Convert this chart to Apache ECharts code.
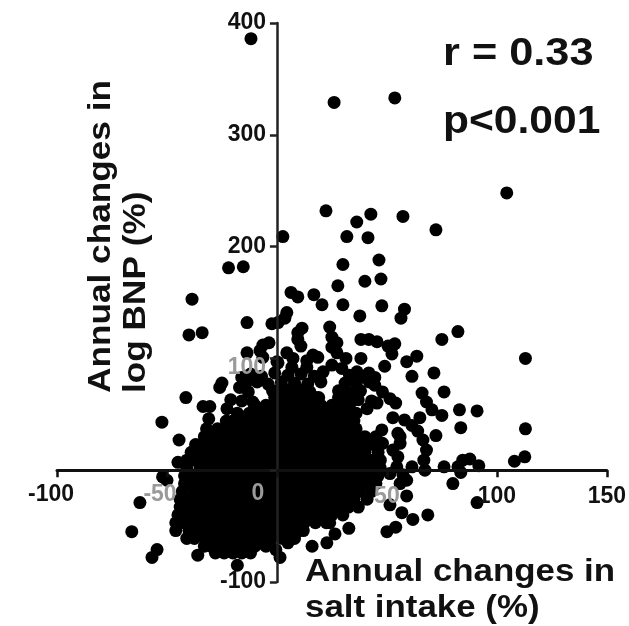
<!DOCTYPE html>
<html><head><meta charset="utf-8">
<script src="https://cdn.jsdelivr.net/npm/echarts@6/dist/echarts.min.js"></script>
<style>html,body{margin:0;padding:0;background:#fff}#c{width:629px;height:626px}</style>
</head><body><div id="c"></div>
<script>
const xTicks=[-100,-50,0,50,100,150];
const yTicks=[-100,0,100,200,300,400];
const grayXLabels=[50];
const shiftedXLabels=[-100,-50,0];
const shiftedYLabels=[0,100];
const outliersTop=[[-11.8,386],[26,329],[53.6,333],[104.5,248],[2.7,209],[-22,181],[-15.3,182],[-38.6,153],[-40,121],[-34,123],[-13.6,132],[22.3,232],[36.3,222],[42.7,229],[57.3,227],[72.3,215],[31.8,209],[41.4,208],[30,184],[46.4,188],[27.7,165],[40,169],[47.3,171],[6.4,159],[9.5,155],[16.8,157],[20.5,148],[30,148],[47.7,147],[37.7,138],[58,144],[56.4,136],[4.5,141],[3.6,136],[0.5,132],[-2.3,131]];
const upperCluster=[[11.4,127],[9.5,123],[9.5,117],[10.9,111],[24,128],[25,119],[27.3,114],[25,110],[27.3,105],[38.2,117],[41.8,117],[45.5,115],[53.6,113],[50.5,111],[52.3,104],[75,117],[63.6,102],[59,97],[49,93],[38.2,100],[31.4,100],[61.4,84],[71.4,87],[36.4,88],[41.8,87],[44.5,83],[-3.6,114],[-6.4,112],[-7.7,107],[-13.6,105],[4.5,105],[7.3,100],[0,97],[13.6,98],[16.4,103],[18.6,101],[21,88],[25,94],[29.5,91],[13.6,92],[6.8,92],[-16,83],[-6.4,101],[0.5,96],[44.5,76],[-26,74],[-25,78],[-17,74],[-33.6,57],[-30.5,57],[-21,63],[-22.7,55],[-31,46],[-32,37],[-41.4,65],[45.5,60],[41,55]];
const outliersRight=[[82.3,124],[113,100],[76,70],[66,69],[68,61],[70.5,54],[75,49],[83,54],[91,53],[65,47],[83.6,38],[113,37],[72.3,31],[51.4,64],[54,60],[52.7,47],[58,45],[61.4,40],[64,35],[66.4,27],[68,18],[66.8,9],[67.3,0],[76,3],[82.3,3],[83.6,-2],[84.5,9],[87.7,10],[91.8,4],[108,8],[112.7,12],[80,-12],[91,-29],[59,-23],[68.6,-40],[61.8,-44],[56.8,-38],[54,-51],[50,-55],[51.4,-31],[59,-9],[56,-12],[54.5,3],[55,12],[55,33],[56,24],[47.7,36],[48,24],[51.4,-3],[61.4,3],[56,30],[52.7,18],[57.3,-4]];
const outliersLow=[[-52.3,43],[-44.5,27],[-45,7],[-52,-6],[-50,-9],[-62.3,-29],[-66,-55],[-54.5,-71],[-56.8,-78],[-36,-76],[-18,-85],[-0.5,-71],[1.4,-78],[5,-65],[16,-68],[22.7,-65],[26.4,-57],[32.7,-52]];
const coreUpper=[[-12,86],[-7,84],[-1,87],[5,85],[11,86],[17,84],[33,85],[38,83],[-14,78],[-9,79],[-4,77],[2,79],[8,78],[14,77],[20,79],[31,78],[36,77],[42,79],[-13,70],[-2,71],[3,69],[9,71],[15,70],[28,71],[33,69],[38,71],[48,70],[-16,62],[-11,61],[37,63],[43,62]];
const coreY=[72,65,58,51,44,37,30,23,16,9,2,-5,-12,-19,-26,-33,-40,-47,-54,-61,-68,-74];
const coreX=[
 [1,5,10,14],
 [-1,2.5,7.5,12.5,17.5,19,28,32],
 [-10,-5,0,5,10,15,20,25,30,33],
 [-18,-12.5,-7.5,-2.5,2.5,7.5,12.5,17.5,22.5,27.5,32.5,36],
 [-23,-20,-15,-10,-5,0,5,10,15,20,25,30,35],
 [-27,-22.5,-17.5,-12.5,-7.5,-2.5,2.5,7.5,12.5,17.5,22.5,27.5,32.5,36],
 [-33,-30,-25,-20,-15,-10,-5,0,5,10,15,20,25,30,35,40,45],
 [-37,-32.5,-27.5,-22.5,-17.5,-12.5,-7.5,-2.5,2.5,7.5,12.5,17.5,22.5,27.5,32.5,37.5,42.5,45],
 [-39,-35,-30,-25,-20,-15,-10,-5,0,5,10,15,20,25,30,35,40,46],
 [-41,-37.5,-32.5,-27.5,-22.5,-17.5,-12.5,-7.5,-2.5,2.5,7.5,12.5,17.5,22.5,27.5,32.5,37.5,42.5,47],
 [-41,-35,-30,-25,-20,-15,-10,-5,0,5,10,15,20,25,30,35,40,45,47],
 [-42,-37.5,-32.5,-27.5,-22.5,-17.5,-12.5,-7.5,-2.5,2.5,7.5,12.5,17.5,22.5,27.5,32.5,37.5,42.5,46],
 [-42,-40,-35,-30,-25,-20,-15,-10,-5,0,5,10,15,20,25,30,35,40,45],
 [-43,-37.5,-32.5,-27.5,-22.5,-17.5,-12.5,-7.5,-2.5,2.5,7.5,12.5,17.5,22.5,27.5,32.5,37.5,43],
 [-44,-40,-35,-30,-25,-20,-15,-10,-5,0,5,10,15,20,25,30,35,41],
 [-44,-42.5,-37.5,-32.5,-27.5,-22.5,-17.5,-12.5,-7.5,-2.5,2.5,7.5,12.5,17.5,22.5,27.5,32.5,37],
 [-45,-40,-35,-30,-25,-20,-15,-10,-5,0,5,10,15,20,25,30],
 [-46,-42.5,-37.5,-32.5,-27.5,-22.5,-17.5,-12.5,-7.5,-2.5,2.5,7.5,12.5,17.5,22.5,24],
 [-46,-40,-35,-30,-25,-20,-15,-10,-5,0,5,10,12],
 [-41,-37.5,-32.5,-27.5,-22.5,-17.5,-12.5,-7.5,-2.5,2.5,8],
 [-33,-30,-25,-20,-15,-10,-5],
 [-28,-24,-20,-16,-12]
];
const corePoints=coreY.flatMap((y,i)=>coreX[i].map(x=>[x,y]));
const allPoints=[].concat(outliersTop,upperCluster,outliersRight,outliersLow,coreUpper,corePoints);
const FONT='"Liberation Sans",Arial,sans-serif';
const chart=echarts.init(document.getElementById('c'));
chart.setOption({
  animation:false,backgroundColor:'#fff',
  grid:{left:57,top:23,width:550,height:559},
  xAxis:{type:'value',min:xTicks[0],max:xTicks[xTicks.length-1],interval:50,splitLine:{show:false},z:5,
    axisLine:{onZero:true,lineStyle:{color:'#111',width:3}},
    axisTick:{show:true,length:7,lineStyle:{color:'#111',width:2.5}},
    axisLabel:{show:true,margin:-97,fontFamily:FONT,fontWeight:'bold',fontSize:23,color:v=>grayXLabels.includes(+v)?'#9a9a9a':'#111',
      showMinLabel:true,showMaxLabel:true,formatter:v=>shiftedXLabels.includes(v)?'':String(v)}},
  yAxis:{type:'value',min:yTicks[0],max:yTicks[yTicks.length-1],interval:100,splitLine:{show:false},z:5,
    axisLine:{onZero:true,lineStyle:{color:'#222',width:2.5}},
    axisTick:{show:true,length:7,lineStyle:{color:'#222',width:2.5}},
    axisLabel:{show:true,margin:-209,fontFamily:FONT,fontWeight:'bold',fontSize:23,color:'#111',
      showMinLabel:true,showMaxLabel:true,formatter:v=>shiftedYLabels.includes(v)?'':String(v)}},
  series:[{type:'scatter',data:allPoints,symbol:'circle',symbolSize:13,itemStyle:{color:'#000',opacity:1},z:2}],
  graphic:[
    {type:'text',z:10,x:51,y:495,style:{text:'-100',font:'bold 23px '+FONT,fill:'#111',textAlign:'center',textVerticalAlign:'middle'}},
    {type:'text',z:10,x:160,y:495,style:{text:'-50',font:'bold 23px '+FONT,fill:'#9a9a9a',textAlign:'center',textVerticalAlign:'middle'}},
    {type:'text',z:10,x:258,y:494,style:{text:'0',font:'bold 23px '+FONT,fill:'#9a9a9a',textAlign:'center',textVerticalAlign:'middle'}},
    {type:'text',z:10,x:266,y:368,style:{text:'100',font:'bold 23px '+FONT,fill:'#9a9a9a',textAlign:'right',textVerticalAlign:'middle'}},
    {type:'text',z:10,x:443,y:55,scaleX:1.14,style:{text:'r = 0.33',font:'bold 38px '+FONT,fill:'#111',textVerticalAlign:'middle'}},
    {type:'text',z:10,x:443,y:123,scaleX:1.12,style:{text:'p<0.001',font:'bold 38px '+FONT,fill:'#111',textVerticalAlign:'middle'}},
    {type:'text',z:10,x:305,y:588,scaleX:1.09,style:{text:'Annual changes in',font:'bold 32px '+FONT,fill:'#111',textVerticalAlign:'bottom'}},
    {type:'text',z:10,x:305,y:624,scaleX:1.09,style:{text:'salt intake (%)',font:'bold 32px '+FONT,fill:'#111',textVerticalAlign:'bottom'}},
    {type:'text',z:10,x:117,y:393,rotation:Math.PI/2,scaleX:1.1,style:{text:'Annual changes in',font:'bold 32px '+FONT,fill:'#111',textVerticalAlign:'bottom'}},
    {type:'text',z:10,x:152,y:393,rotation:Math.PI/2,scaleX:1.1,style:{text:'log BNP (%)',font:'bold 32px '+FONT,fill:'#111',textVerticalAlign:'bottom'}}
  ]
});
</script></body></html>
